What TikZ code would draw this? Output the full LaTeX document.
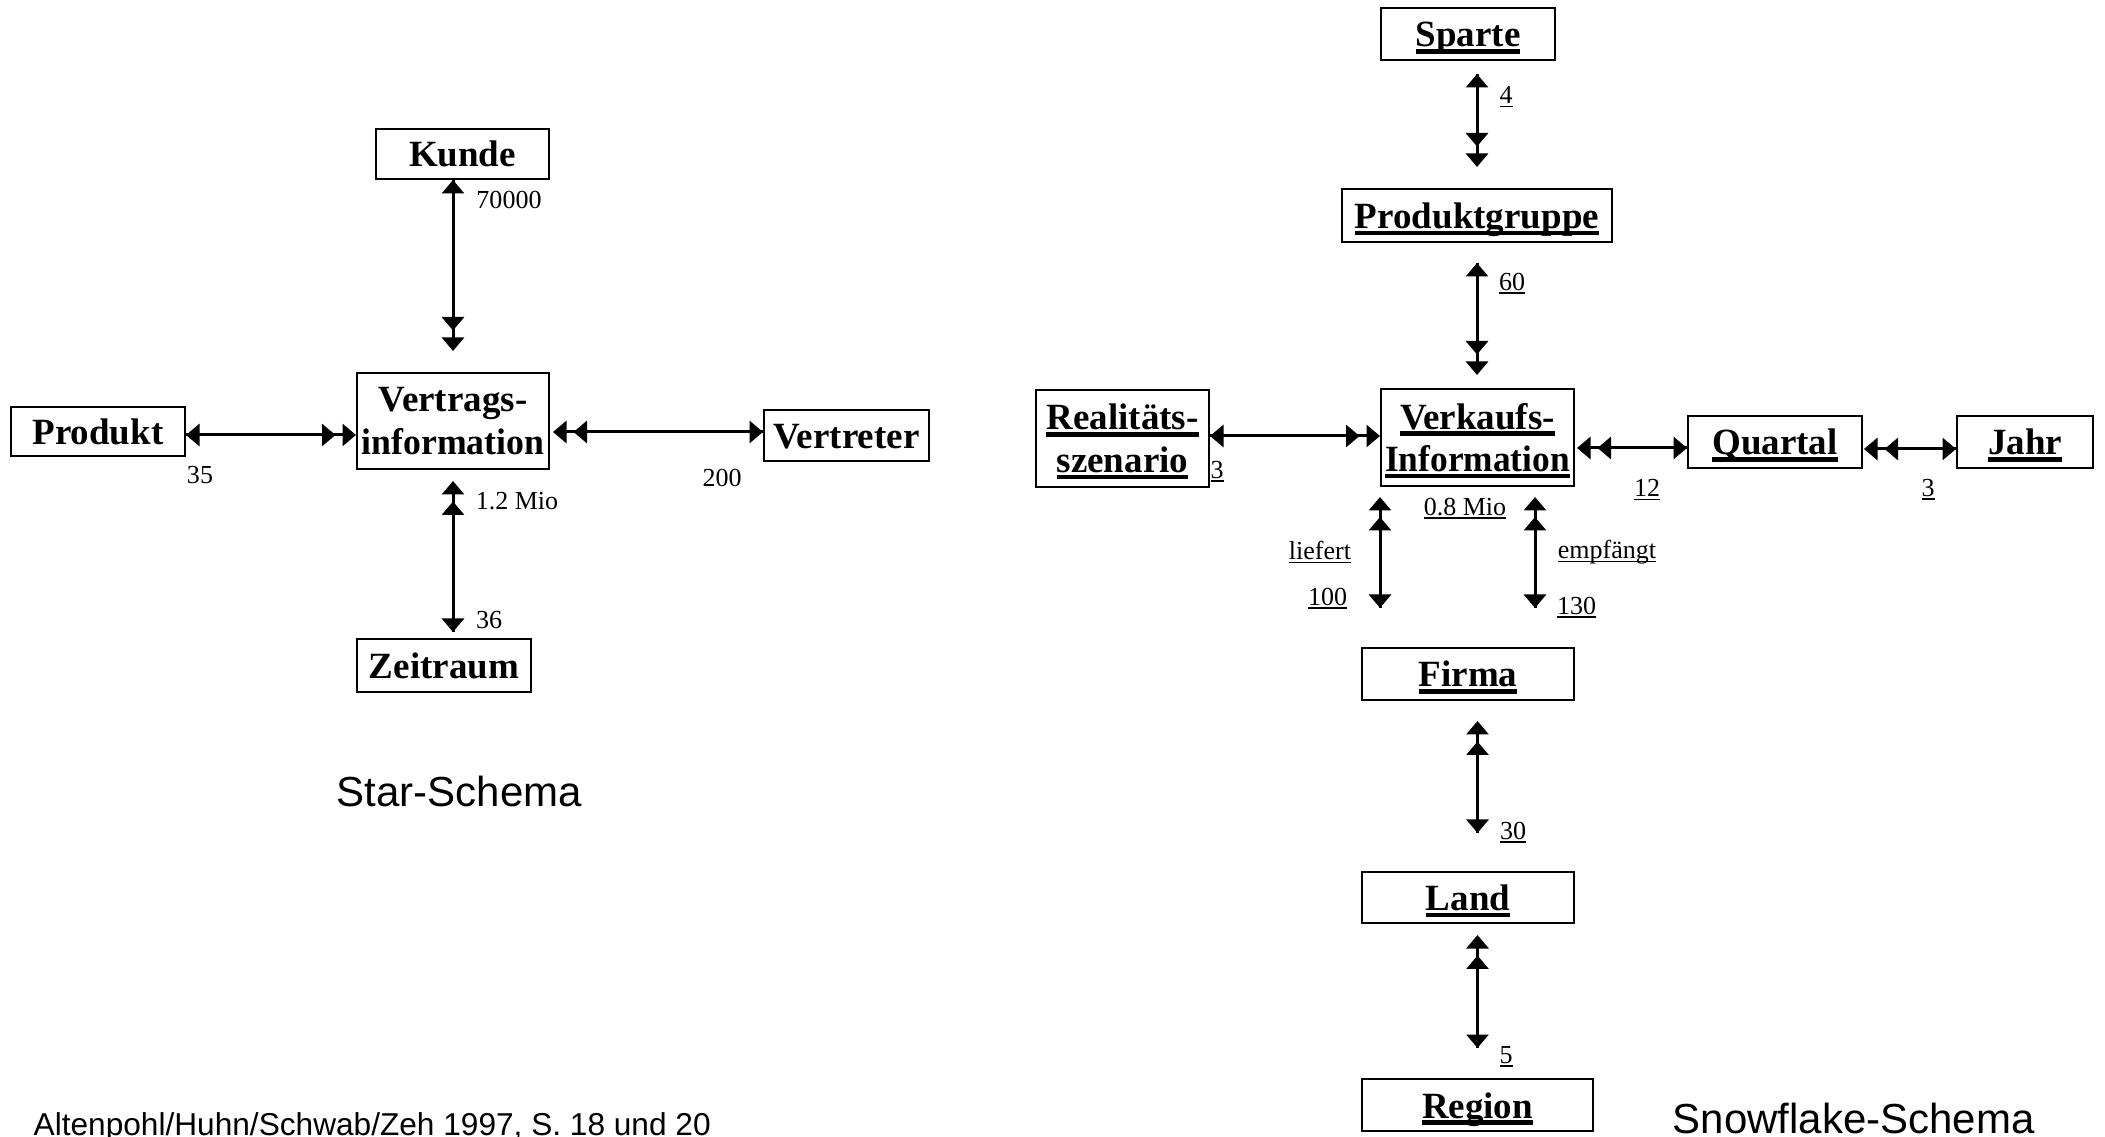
\documentclass[tikz,border=0pt]{standalone}
\usepackage{fontspec}
\setmainfont{Liberation Serif}
\newfontfamily\labelsans{Liberation Sans}
\usetikzlibrary{arrows.meta}

% underlines that do not change the height or depth of the text
\newsavebox\ulbox
\newcommand\ulbold[1]{\sbox\ulbox{#1}\leavevmode\rlap{\raisebox{0pt}[0pt][0pt]{\rule[-0.18em]{\wd\ulbox}{0.115em}}}\usebox\ulbox}
\newcommand\ulthin[1]{\sbox\ulbox{#1}\leavevmode\rlap{\raisebox{0pt}[0pt][0pt]{\rule[-0.13em]{\wd\ulbox}{0.055em}}}\usebox\ulbox}

\tikzset{
  tp/.tip={Triangle[length=1.35mm,width=2.2mm]},
  box/.style={draw,line width=0.2mm,inner sep=0pt,
    font=\fontsize{10.53}{12.1}\selectfont\bfseries,text height=2.7mm,text depth=0.1mm},
  boxtwo/.style={draw,line width=0.2mm,inner sep=0pt,align=center,
    font=\fontsize{10.53}{12.1}\selectfont\bfseries},
  lbl/.style={inner sep=0pt,font=\fontsize{7.4}{8.9}\selectfont},
  conn/.style={line width=0.3mm},
  caption/.style={inner sep=0pt,anchor=base west,font=\labelsans\fontsize{11.95}{14}\selectfont},
}

\begin{document}
\begin{tikzpicture}[x=0.1mm,y=-0.1mm]
\useasboundingbox (0,0) rectangle (2105,1137);

% ---------------- Star schema ----------------
\node[box,minimum width=17.3mm,minimum height=5mm] (kunde) at (462.5,154) {Kunde};
\node[boxtwo,minimum width=19.2mm,minimum height=9.6mm] (vinfo) at (453,421) {Vertrags-\\\hbox to 17.6mm{\hss\scalebox{0.965}[1]{information}\hss}};
\node[box,minimum width=17.4mm,minimum height=4.9mm] (produkt) at (98,431.5) {Produkt};
\node[box,minimum width=16.5mm,minimum height=5.1mm] (vertreter) at (846.5,435.5) {Vertreter};
\node[box,minimum width=17.4mm,minimum height=5.3mm] (zeitraum) at (444,665.5) {Zeitraum};

% Kunde -- Vertragsinformation (double head at the fact table)
\draw[conn,{tp}-{tp},shorten >=2.1mm] (kunde.south -| vinfo.north) -- (vinfo.north);
\draw[conn,-{tp},shorten >=4.15mm] (kunde.south -| vinfo.north) -- (vinfo.north);
% Vertragsinformation -- Zeitraum
\draw[conn,{tp}-{tp},shorten <=1.1mm,shorten >=0.6mm] (vinfo.south) -- (zeitraum.north -| vinfo.south);
\draw[conn,{tp}-,shorten <=3.15mm,shorten >=0.6mm] (vinfo.south) -- (zeitraum.north -| vinfo.south);
% Produkt -- Vertragsinformation
\draw[conn,{tp}-{tp}] (produkt.east |- 0,435) -- (vinfo.west |- 0,435);
\draw[conn,-{tp},shorten >=2.05mm] (produkt.east |- 0,435) -- (vinfo.west |- 0,435);
% Vertragsinformation -- Vertreter
\draw[conn,{tp}-{tp},shorten <=0.3mm] (vinfo.east |- 0,432) -- (vertreter.west |- 0,432);
\draw[conn,{tp}-,shorten <=2.35mm] (vinfo.east |- 0,432) -- (vertreter.west |- 0,432);

\node[lbl] (n70000) at (509,200) {70000};
\node[lbl] (n35) at (200,475) {35};
\node[lbl] (n200) at (722,478) {200};
\node[lbl] (n12mio) at (517,501) {1.2 Mio};
\node[lbl] (n36) at (489,620) {36};

\node[caption] (star) at (336,807) {Star-Schema};

% ---------------- Snowflake schema ----------------
\node[box,minimum width=17.4mm,minimum height=5.2mm] (sparte) at (1468,34) {\ulbold{Sparte}};
\node[box,minimum width=27mm,minimum height=5.3mm] (pgruppe) at (1477,215.5) {\ulbold{Produktgruppe}};
\node[boxtwo,minimum width=19.3mm,minimum height=9.7mm] (vi) at (1477.5,437.5) {\ulbold{Verkaufs-}\\\ulbold{\scalebox{0.955}[1]{Information}}};
\node[boxtwo,minimum width=17.3mm,minimum height=9.7mm] (rs) at (1122.5,438.5) {\ulbold{Realitäts-}\\\ulbold{szenario}};
\node[box,minimum width=17.4mm,minimum height=5.2mm] (quartal) at (1775,442) {\ulbold{Quartal}};
\node[box,minimum width=13.6mm,minimum height=5.2mm] (jahr) at (2025,442) {\ulbold{Jahr}};
\node[box,minimum width=21.2mm,minimum height=5.2mm] (firma) at (1468,674) {\ulbold{Firma}};
\node[box,minimum width=21.2mm,minimum height=5.1mm] (land) at (1468,897.5) {\ulbold{Land}};
\node[box,minimum width=23.1mm,minimum height=5.2mm] (region) at (1477.5,1105) {\ulbold{Region}};

% Sparte -- Produktgruppe
\draw[conn,{tp}-{tp},shorten <=1.3mm,shorten >=2.1mm] (sparte.south -| pgruppe.north) -- (pgruppe.north);
\draw[conn,-{tp},shorten <=1.3mm,shorten >=4.15mm] (sparte.south -| pgruppe.north) -- (pgruppe.north);
% Produktgruppe -- Verkaufsinformation
\draw[conn,{tp}-{tp},shorten <=2mm,shorten >=1.3mm] (pgruppe.south) -- (vi.north -| pgruppe.south);
\draw[conn,-{tp},shorten <=2mm,shorten >=3.35mm] (pgruppe.south) -- (vi.north -| pgruppe.south);
% Realitaetsszenario -- Verkaufsinformation
\draw[conn,{tp}-{tp}] (rs.east |- 0,436) -- (vi.west |- 0,436);
\draw[conn,-{tp},shorten >=2.05mm] (rs.east |- 0,436) -- (vi.west |- 0,436);
% Verkaufsinformation -- Quartal
\draw[conn,{tp}-{tp},shorten <=0.2mm] (vi.east |- 0,448) -- (quartal.west |- 0,448);
\draw[conn,{tp}-,shorten <=2.25mm] (vi.east |- 0,448) -- (quartal.west |- 0,448);
% Quartal -- Jahr
\draw[conn,{tp}-{tp},shorten <=0.1mm] (quartal.east |- 0,449) -- (jahr.west |- 0,449);
\draw[conn,{tp}-,shorten <=2.15mm] (quartal.east |- 0,449) -- (jahr.west |- 0,449);
% Verkaufsinformation -- Firma (liefert)
\draw[conn,{tp}-{tp},shorten <=1mm,shorten >=3.9mm] (vi.south west) -- (vi.south west |- firma.north);
\draw[conn,{tp}-,shorten <=3mm,shorten >=3.9mm] (vi.south west) -- (vi.south west |- firma.north);
% Verkaufsinformation -- Firma (empfaengt)
\draw[conn,{tp}-{tp},shorten <=1mm,shorten >=3.9mm] (vi.south -| 1535,0) -- (firma.north -| 1535,0);
\draw[conn,{tp}-,shorten <=3mm,shorten >=3.9mm] (vi.south -| 1535,0) -- (firma.north -| 1535,0);
% Firma -- Land
\draw[conn,{tp}-{tp},shorten <=2mm,shorten >=3.8mm] (firma.south -| vi.south) -- (land.north -| vi.south);
\draw[conn,{tp}-,shorten <=4.05mm,shorten >=3.8mm] (firma.south -| vi.south) -- (land.north -| vi.south);
% Land -- Region
\draw[conn,{tp}-{tp},shorten <=1.1mm,shorten >=3mm] (land.south -| vi.south) -- (region.north);
\draw[conn,{tp}-,shorten <=3.15mm,shorten >=3mm] (land.south -| vi.south) -- (region.north);

\node[lbl] (n4) at (1506,95) {\ulthin{4}};
\node[lbl] (n60) at (1512,282) {\ulthin{60}};
\node[lbl] (n3a) at (1217,470) {\ulthin{3}};
\node[lbl] (n12) at (1647,488) {\ulthin{12}};
\node[lbl] (n3b) at (1928,488) {\ulthin{3}};
\node[lbl] (n08mio) at (1465,507) {\ulthin{0.8 Mio}};
\node[lbl,anchor=base] (liefert) at (1320,560) {\ulthin{liefert}};
\node[lbl] (n100) at (1327.5,597) {\ulthin{100}};
\node[lbl,anchor=base] (empf) at (1607,559) {\ulthin{empfängt}};
\node[lbl] (n130) at (1576.5,606) {\ulthin{130}};
\node[lbl] (n30) at (1513,831) {\ulthin{30}};
\node[lbl] (n5) at (1506,1055) {\ulthin{5}};

\node[caption] (snow) at (1672,1133) {Snowflake-Schema};
\node[caption,font=\labelsans\fontsize{9}{11}\selectfont] (source) at (33,1135) {Altenpohl/Huhn/Schwab/Zeh 1997, S. 18 und 20};
\end{tikzpicture}
\end{document}
